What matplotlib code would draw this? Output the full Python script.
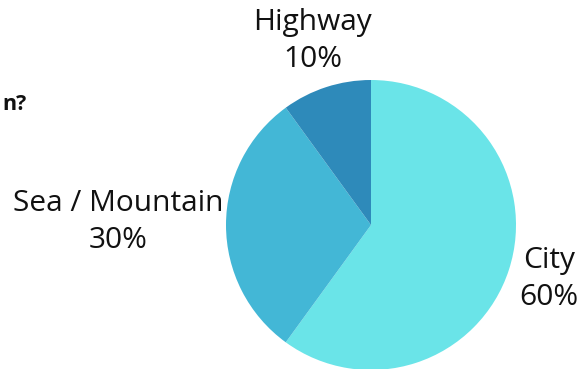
import matplotlib
matplotlib.use("Agg")
import matplotlib.pyplot as plt

categories = ["City", "Sea / Mountain", "Highway"]
values = [60, 30, 10]
colors = ["#6ae4e8", "#43b7d6", "#2e8aba"]
title_text = "n?"

fig = plt.figure(figsize=(5.83, 3.69), dpi=100)
ax = fig.add_axes([0, 0, 1, 1])

cx, cy, r = 371, 369 - 225, 145
wedges, _ = ax.pie(values, colors=colors, startangle=90, counterclock=False,
                   center=(cx, cy), radius=r, frame=True,
                   wedgeprops=dict(linewidth=0))
ax.set_xlim(0, 583)
ax.set_ylim(0, 369)
ax.set_aspect("equal")
ax.axis("off")

font = "Open Sans"
label_pos = {"City": (549, 369 - 279), "Sea / Mountain": (118, 369 - 222), "Highway": (313, 369 - 41)}
for cat, v in zip(categories, values):
    x, y = label_pos[cat]
    ax.text(x, y, f"{cat}\n{v}%", ha="center", va="center", fontsize=21.5,
            family=font, linespacing=1.35, color="#111111")

ax.text(27, 369 - 104, title_text, ha="right", va="center", fontsize=15.5,
        fontweight="bold", family=font, color="#111111")

fig.savefig("out.png", dpi=100)
